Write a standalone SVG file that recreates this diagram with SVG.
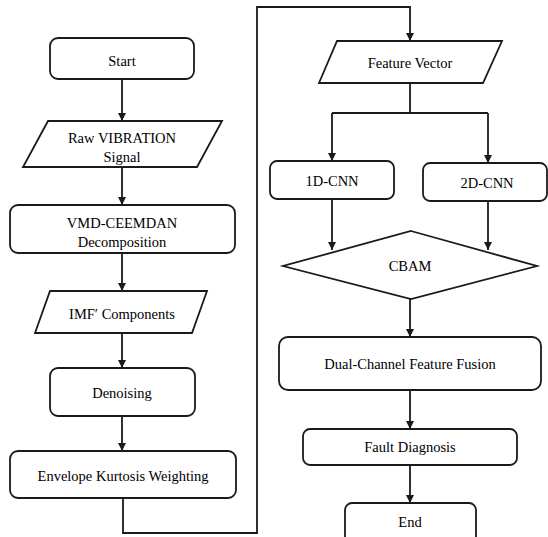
<svg xmlns="http://www.w3.org/2000/svg" width="548" height="537" viewBox="0 0 548 537">
<style>
.n{fill:#fff;stroke:#1a1a1a;stroke-width:1.8;}
.t{font-family:'Liberation Serif','Times New Roman',serif;font-size:14.5px;fill:#000;text-anchor:middle;}
.c{fill:none;stroke:#1a1a1a;stroke-width:1.8;}
</style>
<defs>
<marker id="a" markerUnits="userSpaceOnUse" markerWidth="8" markerHeight="8" viewBox="0 0 8 8" refX="8" refY="4" orient="auto">
<path d="M0,0 L8,4 L0,8 Z" fill="#1a1a1a"/>
</marker>
</defs>
<rect width="548" height="537" fill="#fff"/>
<g id="connectors">
<path class="c" d="M122,79 V121" marker-end="url(#a)"/>
<path class="c" d="M122,167 V205" marker-end="url(#a)"/>
<path class="c" d="M122,253 V291" marker-end="url(#a)"/>
<path class="c" d="M122,333 V368" marker-end="url(#a)"/>
<path class="c" d="M122,416 V451" marker-end="url(#a)"/>
<path class="c" d="M123,498 V533 H257 V7 H410 V41" marker-end="url(#a)"/>
<path class="c" d="M410,83 V113"/>
<path class="c" d="M332,113 H488"/>
<path class="c" d="M332,113 V161" marker-end="url(#a)"/>
<path class="c" d="M488,113 V163" marker-end="url(#a)"/>
<path class="c" d="M332,199 V250" marker-end="url(#a)"/>
<path class="c" d="M488,201 V250" marker-end="url(#a)"/>
<path class="c" d="M410,299 V337" marker-end="url(#a)"/>
<path class="c" d="M410,390 V429" marker-end="url(#a)"/>
<path class="c" d="M410,465 V503" marker-end="url(#a)"/>
</g>
<g id="start"><rect class="n" x="50" y="38" width="144" height="41" rx="8"/><text class="t" x="122" y="66">Start</text></g>
<g id="raw"><polygon class="n" points="48,121 222,121 197,167 23,167"/><text class="t" x="122" y="143">Raw VIBRATION</text><text class="t" x="122" y="162">Signal</text></g>
<g id="vmd"><rect class="n" x="10" y="205" width="225" height="48" rx="8"/><text class="t" x="122" y="228">VMD-CEEMDAN</text><text class="t" x="122" y="247">Decomposition</text></g>
<g id="imf"><polygon class="n" points="50,291 207,291 192,333 35,333"/><text class="t" x="122" y="319">IMF′ Components</text></g>
<g id="denoising"><rect class="n" x="50" y="368" width="145" height="48" rx="8"/><text class="t" x="122" y="398">Denoising</text></g>
<g id="envelope"><rect class="n" x="10" y="451" width="226" height="47" rx="8"/><text class="t" x="123" y="481">Envelope Kurtosis Weighting</text></g>
<g id="feature"><polygon class="n" points="337,41 502,41 483,83 319,83"/><text class="t" x="410" y="68">Feature Vector</text></g>
<g id="cnn1"><rect class="n" x="270" y="161" width="124" height="38" rx="7"/><text class="t" x="332" y="186">1D-CNN</text></g>
<g id="cnn2"><rect class="n" x="423" y="163" width="124" height="38" rx="7"/><text class="t" x="487" y="188">2D-CNN</text></g>
<g id="cbam"><polygon class="n" points="411,231 537,266 411,299 283,266"/><text class="t" x="410" y="271">CBAM</text></g>
<g id="fusion"><rect class="n" x="279" y="337" width="262" height="53" rx="9"/><text class="t" x="410" y="369">Dual-Channel Feature Fusion</text></g>
<g id="fault"><rect class="n" x="303" y="429" width="214" height="36" rx="7"/><text class="t" x="410" y="452">Fault Diagnosis</text></g>
<g id="end"><rect class="n" x="345" y="503" width="131" height="40" rx="7"/><text class="t" x="410" y="527">End</text></g>
</svg>
